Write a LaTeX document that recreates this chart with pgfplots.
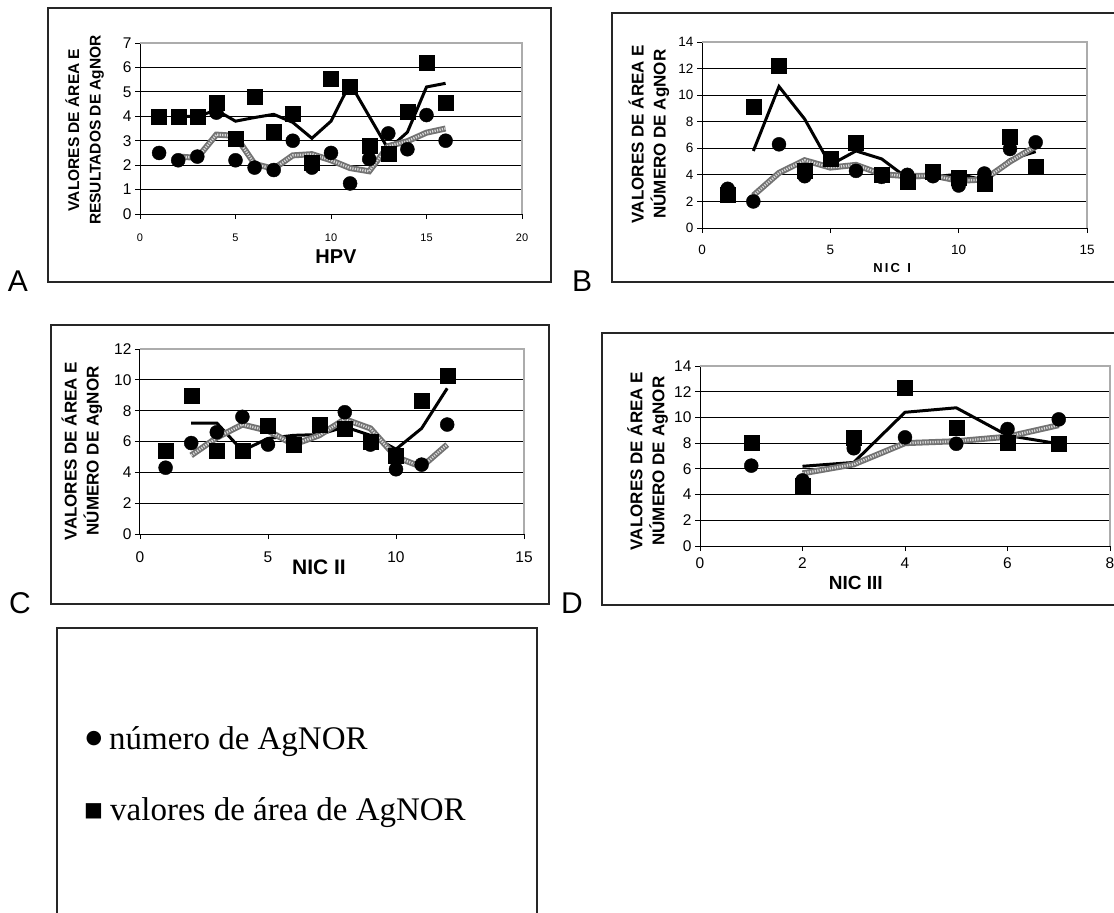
\documentclass[border=0pt]{standalone}
\usepackage{fontspec}
\setmainfont{Liberation Serif}
\newfontfamily\arial{Liberation Sans}
\newfontfamily\dejavu{DejaVu Sans}
\usepackage{pgfplots}
\usepackage{pgfplotstable}
\pgfplotsset{compat=1.18}

\pgfplotstableread{
x  sq   ci   msq   mci
1  4.0  2.5  nan   nan
2  4.0  2.2  4.0   2.35
3  4.0  2.35 4.0   2.3
4  4.55 4.15 4.25  3.25
5  3.1  2.2  3.8   3.2
6  4.8  1.9  3.95  2.05
7  3.35 1.8  4.08  1.85
8  4.1  3.0  3.75  2.4
9  2.1  1.9  3.1   2.45
10 5.55 2.5  3.8   2.2
11 5.2  1.25 5.35  1.88
12 2.8  2.25 4.0   1.75
13 2.45 3.3  2.65  2.78
14 4.2  2.65 3.35  2.98
15 6.2  4.05 5.2   3.33
16 4.55 3.0  5.35  3.5
}\dataA

\pgfplotstableread{
x  sq   ci   msq   mci
1  2.5  2.95 nan   nan
2  9.1  2.0  5.8   2.45
3  12.2 6.3  10.65 4.15
4  4.3  3.9  8.2   5.1
5  5.2  5.2  4.75  4.55
6  6.45 4.3  5.8   4.75
7  4.0  3.85 5.2   4.05
8  3.45 4.0  3.75  3.9
9  4.25 3.9  3.85  3.95
10 3.8  3.2  4.05  3.55
11 3.35 4.1  3.6   3.65
12 6.9  5.95 5.15  5.0
13 4.6  6.45 5.75  6.15
}\dataB

\pgfplotstableread{
x  sq   ci   msq   mci
1  5.4  4.3  nan   nan
2  9.0  5.9  7.2   5.1
3  5.4  6.6  7.2   6.25
4  5.4  7.6  5.4   7.1
5  7.0  5.8  6.2   6.7
6  5.8  5.8  6.4   5.8
7  7.1  7.0  6.45  6.4
8  6.8  7.9  6.95  7.45
9  6.0  5.8  6.4   6.85
10 5.05 4.2  5.5   5.0
11 8.65 4.5  6.85  4.35
12 10.3 7.1  9.45  5.8
}\dataC

\pgfplotstableread{
x  sq   ci   msq   mci
1  8.0  6.25 nan   nan
2  4.7  5.1  6.2   5.65
3  8.4  7.6  6.5   6.35
4  12.3 8.45 10.4  8.0
5  9.2  7.95 10.75 8.15
6  8.0  9.1  8.6   8.5
7  7.95 9.85 7.95  9.4
}\dataD

\pgfplotsset{
  panel/.style={
    scale only axis, anchor=south west, xmin=0, ymin=0,
    axis x line*=bottom, axis y line*=left,
    axis line style={black, line width=1pt, -},
    ymajorgrids, major grid style={black, line width=0.9pt},
    tick align=outside, major tick length=5pt,
    tick style={black, line width=0.9pt},
    /pgf/number format/assume math mode=true,
    unbounded coords=jump, clip=false,
    ylabel style={anchor=center, align=center},
    xlabel style={anchor=center},
    extra description/.code={
      \draw[gray!65, line width=1.6pt] (rel axis cs:0,1)--(rel axis cs:1,1)--(rel axis cs:1,0);
    },
  },
  sq/.style={only marks, mark=square*, mark size=7.5pt, black},
  ci/.style={only marks, mark=*, mark size=7pt, black},
  mablack/.style={no marks, black, line width=3pt},
  magray/.style={no marks, gray!30, line width=2.4pt, dash pattern=on 1.2pt off 1.3pt,
    preaction={draw=black!55, line width=6pt, solid}},
}

\begin{document}
\begin{tikzpicture}
% frames
\draw[black!85, line width=1.3pt] (48pt,-8pt) rectangle (551pt,-282pt);
\draw[black!85, line width=1.3pt] (612pt,-13pt) rectangle (1125pt,-282pt);
\draw[black!85, line width=1.3pt] (51pt,-325pt) rectangle (549pt,-604pt);
\draw[black!85, line width=1.3pt] (602pt,-333pt) rectangle (1125pt,-605pt);
\draw[black!85, line width=1.3pt] (57pt,-925pt) -- (57pt,-628pt) -- (537pt,-628pt) -- (537pt,-925pt);

% panel letters
\node[font=\arial\fontsize{30}{30}\selectfont, inner sep=0pt] at (18pt,-281pt) {A};
\node[font=\arial\fontsize{30}{30}\selectfont, inner sep=0pt] at (582pt,-281pt) {B};
\node[font=\arial\fontsize{30}{30}\selectfont, inner sep=0pt] at (20pt,-603pt) {C};
\node[font=\arial\fontsize{30}{30}\selectfont, inner sep=0pt] at (572pt,-603pt) {D};

% Panel A
\begin{axis}[panel, at={(140pt,-214pt)}, width=382pt, height=171pt,
  xmax=20, ymax=7, xtick={0,5,...,20}, ytick={0,1,...,7},
  xticklabel style={font=\arial\fontsize{11}{11}\selectfont, yshift=-11pt},
  yticklabel style={font=\arial\fontsize{15.5}{15.5}\selectfont},
  xlabel={HPV},
  xlabel style={at={(axis description cs:0.513,-0.251)}, font=\arial\bfseries\fontsize{20}{20}\selectfont},
  ylabel={VALORES DE ÁREA E\\RESULTADOS DE AgNOR},
  ylabel style={at={(axis description cs:-0.145,0.491)}, font=\arial\bfseries\fontsize{15.5}{21.5}\selectfont}]
\addplot[sq] table[x=x,y=sq]{\dataA};
\addplot[ci] table[x=x,y=ci]{\dataA};
\addplot[mablack] table[x=x,y=msq]{\dataA};
\addplot[magray] table[x=x,y=mci]{\dataA};
\end{axis}

% Panel B
\begin{axis}[panel, at={(702pt,-228pt)}, width=385pt, height=186pt,
  xmax=15, ymax=14, xtick={0,5,10,15}, ytick={0,2,...,14},
  xticklabel style={font=\arial\fontsize{13.5}{13.5}\selectfont, yshift=-9pt},
  yticklabel style={font=\arial\fontsize{13.5}{13.5}\selectfont},
  xlabel={N\,I\,C\ \ I},
  xlabel style={at={(axis description cs:0.494,-0.215)}, font=\arial\bfseries\fontsize{13}{13}\selectfont},
  ylabel={VALORES DE ÁREA E\\NÚMERO DE AgNOR},
  ylabel style={at={(axis description cs:-0.138,0.505)}, font=\arial\bfseries\fontsize{17}{22}\selectfont}]
\addplot[sq] table[x=x,y=sq]{\dataB};
\addplot[ci] table[x=x,y=ci]{\dataB};
\addplot[mablack] table[x=x,y=msq]{\dataB};
\addplot[magray] table[x=x,y=mci]{\dataB};
\end{axis}

% Panel C
\begin{axis}[panel, at={(140pt,-534pt)}, width=384pt, height=185pt,
  xmax=15, ymax=12, xtick={0,5,10,15}, ytick={0,2,...,12},
  xticklabel style={font=\arial\fontsize{15.5}{15.5}\selectfont, yshift=-9pt},
  yticklabel style={font=\arial\fontsize{15.5}{15.5}\selectfont},
  xlabel={NIC II},
  xlabel style={at={(axis description cs:0.466,-0.178)}, font=\arial\bfseries\fontsize{21}{21}\selectfont},
  ylabel={VALORES DE ÁREA E\\NÚMERO DE AgNOR},
  ylabel style={at={(axis description cs:-0.151,0.449)}, font=\arial\bfseries\fontsize{17}{22}\selectfont}]
\addplot[sq] table[x=x,y=sq]{\dataC};
\addplot[ci] table[x=x,y=ci]{\dataC};
\addplot[mablack] table[x=x,y=msq]{\dataC};
\addplot[magray] table[x=x,y=mci]{\dataC};
\end{axis}

% Panel D
\begin{axis}[panel, at={(700pt,-546pt)}, width=410pt, height=180pt,
  xmax=8, ymax=14, xtick={0,2,...,8}, ytick={0,2,...,14},
  xticklabel style={font=\arial\fontsize{15.5}{15.5}\selectfont, yshift=-3pt},
  yticklabel style={font=\arial\fontsize{15.5}{15.5}\selectfont},
  xlabel={NIC III},
  xlabel style={at={(axis description cs:0.380,-0.206)}, font=\arial\bfseries\fontsize{19}{19}\selectfont},
  ylabel={VALORES DE ÁREA E\\NÚMERO DE AgNOR},
  ylabel style={at={(axis description cs:-0.128,0.472)}, font=\arial\bfseries\fontsize{17}{22}\selectfont}]
\addplot[sq] table[x=x,y=sq]{\dataD};
\addplot[ci] table[x=x,y=ci]{\dataD};
\addplot[mablack] table[x=x,y=msq]{\dataD};
\addplot[magray] table[x=x,y=mci]{\dataD};
\end{axis}

% legend box
\node[font=\dejavu\fontsize{19}{19}\selectfont, inner sep=0pt] at (94pt,-739pt) {●};
\node[anchor=base west, inner sep=0pt, font=\fontsize{33}{33}\selectfont] at (109pt,-749pt) {número de AgNOR};
\node[font=\dejavu\fontsize{20}{20}\selectfont, inner sep=0pt] at (93.5pt,-811pt) {■};
\node[anchor=base west, inner sep=0pt, font=\fontsize{33}{33}\selectfont] at (110pt,-820pt) {valores de área de AgNOR};

\pgfresetboundingbox
\useasboundingbox (0pt,0pt) rectangle (1114pt,-913pt);
\end{tikzpicture}
\end{document}
